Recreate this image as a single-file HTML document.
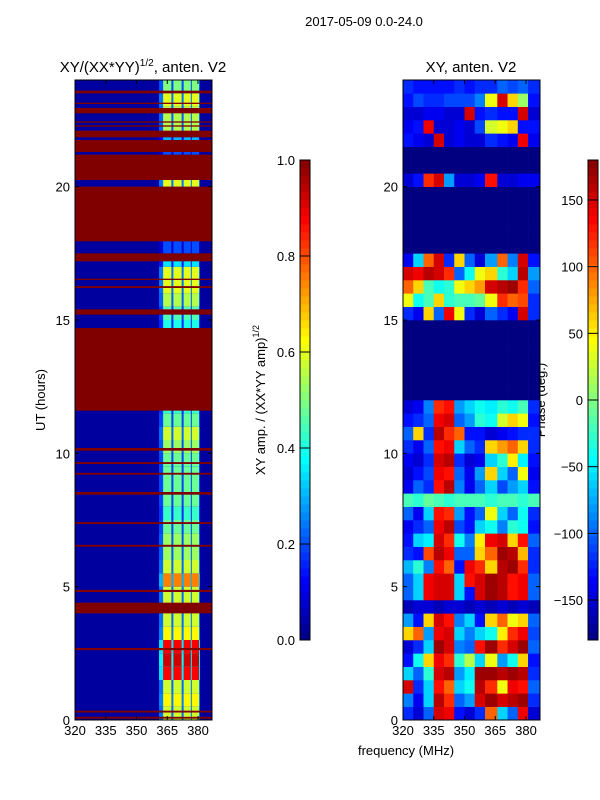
<!DOCTYPE html>
<html><head><meta charset="utf-8"><style>
html,body{margin:0;padding:0;background:#fff;}
svg{display:block;font-family:"Liberation Sans",sans-serif;}
</style></head><body>
<svg id="fig" width="600" height="800" viewBox="0 0 600 800">
<text x="364" y="26" font-size="13" text-anchor="middle">2017-05-09 0.0-24.0</text>
<text x="143" y="72" font-size="15" text-anchor="middle">XY/(XX*YY)<tspan font-size="10" dy="-6">1/2</tspan><tspan dy="6">, anten. V2</tspan></text>
<text x="471" y="72" font-size="15" text-anchor="middle">XY, anten. V2</text>
<text transform="translate(45,400) rotate(-90)" font-size="13" text-anchor="middle">UT (hours)</text>
<text x="406" y="755" font-size="13" text-anchor="middle">frequency (MHz)</text>
<text transform="translate(265,400) rotate(-90)" font-size="13" text-anchor="middle">XY amp. / (XX*YY amp)<tspan font-size="9" dy="-6">1/2</tspan></text>
<text transform="translate(545,400) rotate(-90)" font-size="13" text-anchor="middle">Phase (deg.)</text>
<g id="left"></g>
<g id="right"></g>
<g id="axes"></g>
</svg>
<script>
// ---- data ----
const freqTicks = [320,335,350,365,380];
const hourTicks = [0,5,10,15,20];
const ampTicks = [0.0,0.2,0.4,0.6,0.8,1.0];
const phaseTicks = [-150,-100,-50,0,50,100,150];
const ampBackground = 0.03;
const stripeBands = [[363,367],[368,372],[373,376.5],[377,380.5]];
const stripeAmp = [0.58,0.63,0.58,0.88,0.92,0.88,0.63,0.58,0.58,0.58,0.75,0.58,0.53,0.53,0.48,0.43,0.48,0.48,0.48,0.48,0.53,0.58,0.48,0.43,
  0.3,0.3,0.3,0.3,0.3,0.4,0.45,0.55,0.6,0.6,0.35,0.2,0.2,0.2,0.2,0.2,0.6,0.2,0.2,0.3,0.55,0.55,0.6,0.5];
const maroonBands = [[0.05,0.12],[0.28,0.35],[2.62,2.7],[4.0,4.4],[4.8,4.88],[6.5,6.57],[7.35,7.42],[8.45,8.55],[9.2,9.27],[9.6,9.67],[10.1,10.2],[11.6,14.7],[15.2,15.4],[16.2,16.27],[16.5,16.55],[17.2,17.5],[17.95,20.0],[20.25,21.2],[21.3,21.75],[21.85,22.1],[22.25,22.3],[22.4,22.45],[22.75,22.95],[23.1,23.15],[23.5,23.6]];
const phaseFreqEdges = [320,325,330,335,340,345,350,355,360,366,371,376,381,387];
const N=-180;
const phaseRows = [
[-120,-150,-100,150,140,-130,-150,-120,100,-60,-100,140,-150],
[-90,-140,-60,160,120,-100,-80,150,170,150,160,170,-120],
[150,-120,-60,130,100,-60,-40,160,120,40,140,130,-100],
[-60,-100,-30,150,160,-80,-50,170,170,160,170,160,-120],
[-130,-40,60,140,120,-30,20,-60,40,-80,-40,60,-130],
[-150,-120,-60,170,150,-90,-100,130,170,120,150,170,-100],
[60,100,-80,140,150,-60,-90,-60,-40,50,120,140,-110],
[-80,-130,60,150,130,-90,-60,-130,60,100,40,60,-100],
[-160,-150,-150,-160,-150,-150,-160,-150,-160,-150,-160,-150,-160],
[-100,-60,140,150,150,-60,-130,150,170,160,130,140,-100],
[-100,-60,140,150,150,-60,130,150,170,160,130,140,-100],
[-70,-30,-90,130,100,-130,140,120,60,160,170,120,-120],
[-120,-130,110,160,140,-100,-100,60,100,170,160,70,-120],
[-130,-60,-50,150,120,-40,-90,50,140,150,60,130,-100],
[-140,-120,-100,140,160,-110,-130,-60,-40,-90,-30,-40,-130],
[-100,-140,-60,130,120,-80,-130,-100,40,-60,-100,-40,-120],
[-20,-30,-10,-20,-30,-20,-20,-20,-30,-20,-20,-30,-20],
[-140,-100,-120,130,160,-90,-140,-100,-60,-110,-80,-60,-130],
[-150,-130,-110,140,130,-100,-140,-80,60,-60,-100,40,-140],
[-140,-150,-120,150,160,-120,-150,-140,-60,-30,50,-50,-130],
[-120,-140,-100,130,140,-60,-100,-120,60,80,100,60,-120],
[-100,60,-120,160,120,100,-130,-130,-150,-140,-130,-120,-120],
[-130,-120,-100,140,150,-100,-80,-30,-40,30,60,40,-130],
[-150,-140,-90,120,130,-80,-60,-40,-50,-30,-40,-20,-120],
[N,N,N,N,N,N,N,N,N,N,N,N,N],[N,N,N,N,N,N,N,N,N,N,N,N,N],[N,N,N,N,N,N,N,N,N,N,N,N,N],
[N,N,N,N,N,N,N,N,N,N,N,N,N],[N,N,N,N,N,N,N,N,N,N,N,N,N],[N,N,N,N,N,N,N,N,N,N,N,N,N],
[-120,-140,60,-100,140,40,-120,-150,-100,-120,-140,150,-120],
[40,-40,-20,60,-30,-20,-20,-10,40,120,100,110,-120],
[100,60,-20,-40,-30,40,60,80,150,160,170,120,-100],
[150,140,160,150,120,-100,-40,40,60,-30,-60,160,-80],
[-140,-60,100,150,-120,60,-100,-150,-80,100,-90,150,-130],
[N,N,N,N,N,N,N,N,N,N,N,N,N],[N,N,N,N,N,N,N,N,N,N,N,N,N],[N,N,N,N,N,N,N,N,N,N,N,N,N],
[N,N,N,N,N,N,N,N,N,N,N,N,N],[N,N,N,N,N,N,N,N,N,N,N,N,N],
[-150,-130,120,150,-80,-150,-150,-140,130,-150,-150,-140,-140],
[N,N,N,N,N,N,N,N,N,N,N,N,N],[N,N,N,N,N,N,N,N,N,N,N,N,N],
[-130,-140,-150,150,-150,-140,-150,-150,-120,-130,-140,140,-140],
[-140,-130,140,-150,-150,-140,-150,-110,30,40,60,-130,-130],
[-150,-150,-140,-140,-150,-150,150,-130,-120,-130,-130,150,-150],
[-130,-110,-120,-120,-110,-110,-110,-90,40,150,60,10,-130],
[-120,-130,-130,-130,-130,-120,-130,-120,-120,-100,-110,-100,-120]
];
// ---- scales ----
const NS='http://www.w3.org/2000/svg';
const Y0=720,Y1=80,FMIN=320,PXF=2.05;
function yH(h){return Y0-(h/24)*(Y0-Y1);}
function xF(left,f){return left+(f-FMIN)*PXF;}
function clip(v){return Math.max(0,Math.min(1,v));}
function jet(x){x=clip(x);const r=clip(1.5-Math.abs(4*x-3)),g=clip(1.5-Math.abs(4*x-2)),b=clip(1.5-Math.abs(4*x-1));
 return 'rgb('+Math.round(r*255)+','+Math.round(g*255)+','+Math.round(b*255)+')';}
function rect(p,x,y,w,h,fill,name){const r=document.createElementNS(NS,'rect');
 r.setAttribute('x',x);r.setAttribute('y',y);r.setAttribute('width',w);r.setAttribute('height',h);r.setAttribute('fill',fill);
 
 
 p.appendChild(r);return r;}
function txt(p,x,y,s,anchor,name){const t=document.createElementNS(NS,'text');t.setAttribute('x',x);t.setAttribute('y',y);
 t.setAttribute('font-size','13');t.setAttribute('text-anchor',anchor);t.textContent=s;
 
 
 p.appendChild(t);}
function line(p,x1,y1,x2,y2,name,w){const l=document.createElementNS(NS,'line');l.setAttribute('x1',x1);l.setAttribute('y1',y1);
 l.setAttribute('x2',x2);l.setAttribute('y2',y2);l.setAttribute('stroke','#000');l.setAttribute('stroke-width',w||1);
 
 
 p.appendChild(l);}
// ---- left heatmap ----
const L=document.getElementById('left'),LX=75,PW=137;
rect(L,LX,Y1,PW,Y0-Y1,jet(ampBackground),'amp-background');
stripeAmp.forEach((a,i)=>{
 const yT=yH((i+1)*0.5),yB=yH(i*0.5);
 rect(L,xF(LX,361),yT,xF(LX,381)-xF(LX,361),yB-yT,jet(a*0.4),'amp-gap-cell');
 stripeBands.forEach(b=>{rect(L,xF(LX,b[0]),yT,xF(LX,b[1])-xF(LX,b[0]),yB-yT,jet(a),'amp-cell');});
});
maroonBands.forEach(b=>{const yT=yH(b[1]),yB=yH(b[0]);rect(L,LX,yT,PW,Math.max(1,yB-yT),jet(1),'amp-flagged-band');});
// ---- right heatmap ----
const R=document.getElementById('right'),RX=403;
phaseRows.forEach((row,i)=>{
 const yT=yH((i+1)*0.5),yB=yH(i*0.5);
 row.forEach((v,j)=>{const x0=xF(RX,phaseFreqEdges[j]),x1=Math.min(RX+PW,xF(RX,phaseFreqEdges[j+1]));
  rect(R,x0,yT,x1-x0+0.3,yB-yT+0.3,jet((v+180)/360),'phase-cell');});
});
// ---- axes ----
const A=document.getElementById('axes');
[LX,RX].forEach((px,k)=>{
 const f=document.createElementNS(NS,'rect');f.setAttribute('x',px);f.setAttribute('y',Y1);f.setAttribute('width',PW);f.setAttribute('height',Y0-Y1);
 f.setAttribute('fill','none');f.setAttribute('stroke','#000');
 
 
 A.appendChild(f);
 freqTicks.forEach(t=>{const x=xF(px,t);line(A,x,Y0,x,Y0-4,'x-tick');line(A,x,Y1,x,Y1+4,'x-tick');
  txt(A,x,Y0+15,String(t),'middle','x-tick-label');});
 hourTicks.forEach(t=>{const y=yH(t);line(A,px,y,px+4,y,'y-tick');line(A,px+PW,y,px+PW-4,y,'y-tick');
  txt(A,px-5,y+5,String(t),'end','y-tick-label');});
});
// colorbars
function cbar(cx,ticks,vmin,vmax,fmt,name){
 const top=160,bot=640,n=60;
 for(let i=0;i<n;i++){const y=bot-(i+1)*(bot-top)/n;rect(A,cx,y,10,(bot-top)/n+0.5,jet((i+0.5)/n),name+'-swatch');}
 const f=document.createElementNS(NS,'rect');f.setAttribute('x',cx);f.setAttribute('y',top);f.setAttribute('width',10);f.setAttribute('height',bot-top);
 f.setAttribute('fill','none');f.setAttribute('stroke','#000');
 
 
 A.appendChild(f);
 ticks.forEach(t=>{const y=bot-(t-vmin)/(vmax-vmin)*(bot-top);line(A,cx,y,cx+10,y,name+'-tick');
  txt(A,cx-5,y+5,fmt(t),'end',name+'-tick-label');});
}
cbar(300,ampTicks,0,1,t=>t.toFixed(1),'amp-colorbar');
cbar(588,phaseTicks,-180,180,t=>(t<0?'\u2212'+(-t):String(t)),'phase-colorbar');
</script>
</body></html>
